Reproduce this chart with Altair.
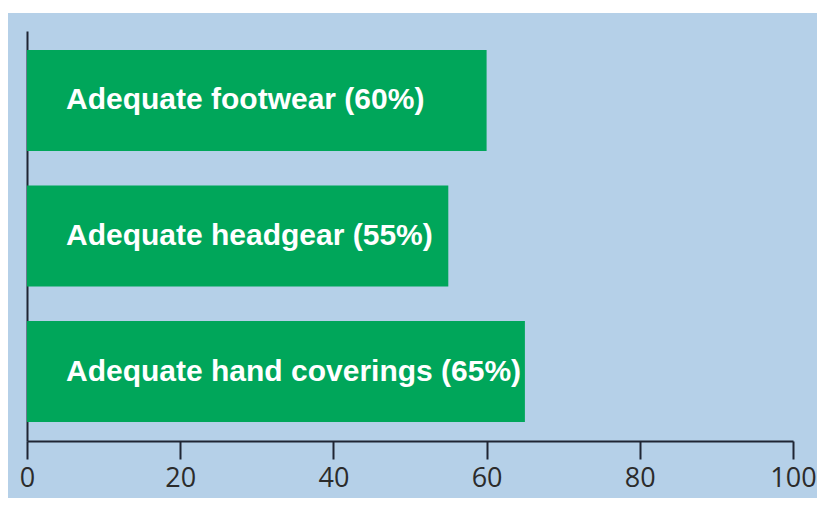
import altair as alt
import pandas as pd

items = ["Adequate footwear", "Adequate headgear", "Adequate hand coverings"]
values = [60, 55, 65]
tick_values = [0, 20, 40, 60, 80, 100]

labels = [f"{i} ({v}%)" for i, v in zip(items, values)]
df = pd.DataFrame({"item": items, "value": values, "label": labels})

BLUE = "#b5d0e8"
GREEN = "#00a65a"
AXIS = "#1f2533"

x_enc = alt.X(
    "value:Q",
    scale=alt.Scale(domain=[0, 100], range=[19, 785], nice=False, zero=True),
    axis=alt.Axis(
        values=tick_values,
        title=None,
        grid=False,
        offset=-57,
        domainColor=AXIS,
        domainWidth=2,
        tickColor=AXIS,
        tickWidth=2,
        tickSize=18,
        labelFont="Open Sans",
        labelFontSize=27,
        labelColor="#2b2b2b",
        labelPadding=6,
        labelFlush=False,
    ),
)

y_enc = alt.Y(
    "item:N",
    sort=items,
    scale=alt.Scale(range=[18, 428], paddingInner=0.255, paddingOuter=0.14),
    axis=alt.Axis(
        labels=False,
        ticks=False,
        title=None,
        grid=False,
        domainColor=AXIS,
        domainWidth=2,
        offset=-19,
    ),
)

bars = alt.Chart(df).mark_bar(color=GREEN).encode(x=x_enc, y=y_enc)

text = alt.Chart(df).mark_text(
    align="left",
    baseline="middle",
    font="Liberation Sans",
    fontWeight="bold",
    fontSize=30,
    color="white",
).encode(x=alt.value(58), y=y_enc, text="label:N")

chart = (
    alt.layer(bars, text)
    .properties(
        width=809,
        height=485,
        autosize=alt.AutoSizeParams(type="none"),
        padding={"left": 0, "top": 5, "right": 0, "bottom": 0},
        background="white",
    )
    .configure_view(fill=BLUE, strokeWidth=0)
)

chart.save("out.html", embed_options={"renderer": "svg", "actions": False})
